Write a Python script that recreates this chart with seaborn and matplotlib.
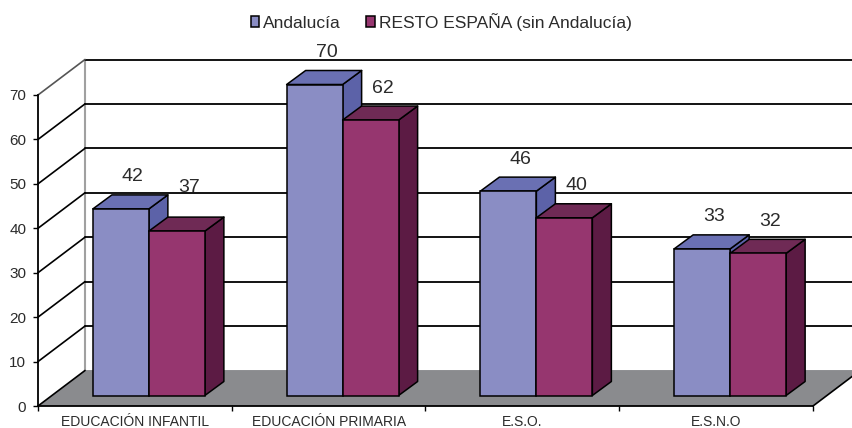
import matplotlib
matplotlib.use('Agg')
import matplotlib.pyplot as plt
import pandas as pd
import seaborn as sns
from matplotlib.patches import Polygon
from matplotlib.transforms import Affine2D, IdentityTransform

CATEGORIES = ['EDUCACIÓN INFANTIL', 'EDUCACIÓN PRIMARIA', 'E.S.O.', 'E.S.N.O']
SERIES = ['Andalucía', 'RESTO ESPAÑA (sin Andalucía)']
ANDALUCIA = [42, 70, 46, 33]
RESTO = [37, 62, 40, 32]
Y_TICKS = [0, 10, 20, 30, 40, 50, 60, 70]

FRONT = ['#8A8DC4', '#96366F']
TOP = ['#6A70B3', '#6F2A55']
SIDE = ['#5C62A8', '#5C1B44']
TEXT = '#2b2b2b'

# pixel depth of the fake 3d box
BAR_SHIFT = (14, 10.5)
BAR_DEPTH = (19, 14)
WALL = (47, 35.5)
# the 37 label sits higher than the others in the original
LABEL_LIFT = {37: 44}

df = pd.DataFrame({
    'cat': CATEGORIES * 2,
    'serie': [SERIES[0]] * 4 + [SERIES[1]] * 4,
    'valor': ANDALUCIA + RESTO,
})

sns.set_theme(style='white')
plt.rcParams['font.family'] = ['Liberation Sans', 'DejaVu Sans']

W, H = 853, 428
fig = plt.figure(figsize=(W / 100, H / 100), dpi=100)
ax = fig.add_axes([38 / W, 1 - 406 / H, 775 / W, 311 / H])
ax.patch.set_visible(False)

sns.barplot(data=df, x='cat', y='valor', hue='serie', palette=FRONT, width=0.578, gap=0,
            edgecolor='black', linewidth=1.1, saturation=1, ax=ax)
ax.set_xlim(-0.5, 3.5)
ax.set_ylim(0, 70)
ax.set_xlabel('')
ax.set_ylabel('')


def px(x, y):
    return ax.transData.transform((x, y))


# floor
x0, x1 = ax.get_xlim()
a, b = px(x0, 0), px(x1, 0)
floor = [a, a + WALL, b + WALL, b]
ax.add_patch(Polygon(floor, closed=True, transform=IdentityTransform(), fc='#8A8B8E', ec='none',
                     zorder=1, clip_on=False))

# grid on the back wall and on the left side
for v in Y_TICKS:
    l, r = px(x0, v), px(x1, v)
    col = '#8A8B8E' if v == 0 else 'black'
    ax.plot([l[0] + WALL[0], r[0] + WALL[0]], [l[1] + WALL[1], r[1] + WALL[1]], color=col, lw=1.3,
            transform=IdentityTransform(), zorder=3, clip_on=False)
    ax.plot([l[0], l[0] + WALL[0]], [l[1], l[1] + WALL[1]], color='#555555' if v == 70 else 'black', lw=1.2,
            transform=IdentityTransform(), zorder=3, clip_on=False)
l, t = px(x0, 0), px(x0, 70)
ax.plot([l[0] + WALL[0]] * 2, [l[1] + WALL[1], t[1] + WALL[1]], color='#A0A0A0', lw=1.5,
        transform=IdentityTransform(), zorder=2, clip_on=False)
ax.plot([b[0], b[0] + WALL[0]], [b[1], b[1] + WALL[1]], color='black', lw=1.2,
        transform=IdentityTransform(), zorder=3, clip_on=False)

# bars with side and top faces
shift = Affine2D().translate(*BAR_SHIFT)
z = 5
for i in range(len(CATEGORIES)):
    for s, cont in enumerate(ax.containers[:2]):
        bar = cont[i]
        bx0, bx1 = bar.get_x(), bar.get_x() + bar.get_width()
        h = bar.get_height()
        p00 = px(bx0, h) + BAR_SHIFT
        p10 = px(bx1, h) + BAR_SHIFT
        p1b = px(bx1, 0) + BAR_SHIFT
        top = [p00, p00 + BAR_DEPTH, p10 + BAR_DEPTH, p10]
        side = [p10, p10 + BAR_DEPTH, p1b + BAR_DEPTH, p1b]
        for pts, fc in ((side, SIDE[s]), (top, TOP[s])):
            ax.add_patch(Polygon(pts, closed=True, transform=IdentityTransform(), fc=fc, ec='black', lw=1.1,
                                 joinstyle='round', zorder=z, clip_on=False))
        bar.set_transform(ax.transData + shift)
        bar.set_zorder(z + 0.5)
        bar.set_clip_on(False)
        # value label sits behind the grid lines
        lift = LABEL_LIFT.get(int(h), 32)
        ax.annotate(f'{h:.0f}', ((bx0 + bx1) / 2, h), xytext=(BAR_SHIFT[0] + 12, BAR_SHIFT[1] + lift),
                    textcoords='offset pixels', ha='center', va='center', fontsize=14,
                    color=TEXT, zorder=2.5, annotation_clip=False)
        z += 1

# axes
ax.set_yticks(Y_TICKS)
ax.set_xticks([-0.5, 0.5, 1.5, 2.5, 3.5])
ax.set_xticklabels([])
ax.set_xticks(range(len(CATEGORIES)), minor=True)
ax.set_xticklabels(CATEGORIES, minor=True, fontsize=10, color=TEXT)
ax.tick_params(axis='x', which='major', bottom=True, length=3.5, width=1, color='black')
ax.tick_params(axis='x', which='minor', bottom=False, length=0, pad=6.5)
ax.tick_params(axis='y', left=True, length=3.5, width=1, color='black', labelsize=11, labelcolor=TEXT, pad=5)
for side_name in ('top', 'right'):
    ax.spines[side_name].set_visible(False)
for side_name in ('left', 'bottom'):
    ax.spines[side_name].set_visible(True)
    ax.spines[side_name].set_color('black')
    ax.spines[side_name].set_linewidth(1.3)
    ax.spines[side_name].set_zorder(4)

handles, labels = ax.get_legend_handles_labels()
ax.get_legend().remove()
fig.legend(handles, labels, ncol=2, loc='center', bbox_to_anchor=(441 / W, 1 - 22 / H), frameon=False,
           fontsize=12.5, handlelength=0.5, handleheight=0.6, handletextpad=0.2, columnspacing=1.5,
           labelcolor=TEXT, borderpad=0)

fig.savefig('out.png', dpi=100)
